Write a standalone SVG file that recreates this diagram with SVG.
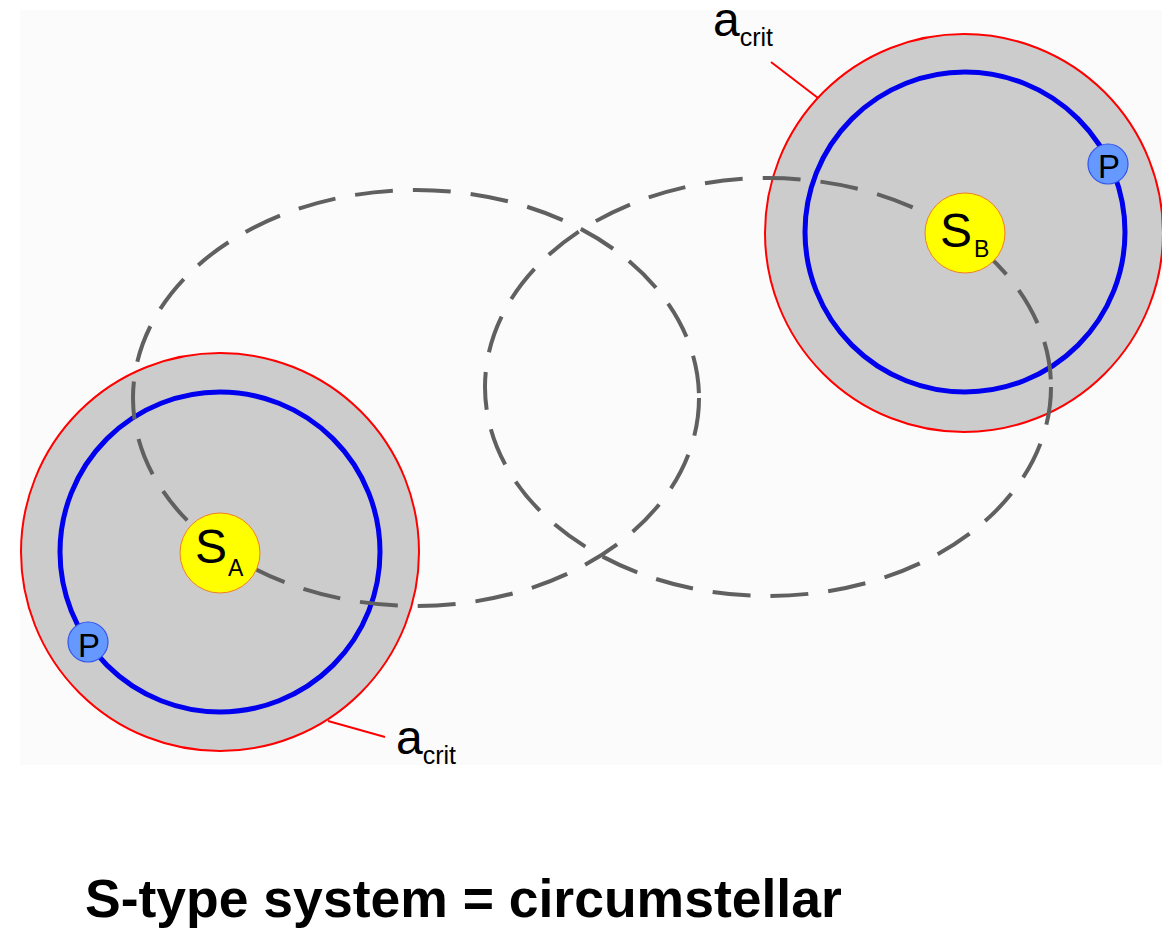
<svg xmlns="http://www.w3.org/2000/svg" width="1162" height="929" viewBox="0 0 1162 929">
<style>
.zone{fill:#cccccc;stroke:#ff0000;stroke-width:2}
.orbit{fill:none;stroke:#0000ee;stroke-width:5}
.path{fill:none;stroke:#606060;stroke-width:4;stroke-dasharray:38 20}
.star{fill:#ffff00;stroke:#f08020;stroke-width:1}
.planet{fill:#6699ff;stroke:#3355ee;stroke-width:1.2}
.lead{stroke:#ff0000;stroke-width:2;fill:none}
text{font-family:"Liberation Sans",Arial,sans-serif;fill:#000}
.big{font-size:48px}
.sub{font-size:25px}
.ssub{font-size:23px}
.pl{font-size:33px;text-anchor:middle}
.title{font-size:53.5px;font-weight:bold}
</style>
<rect x="0" y="0" width="1162" height="929" fill="#ffffff"/>
<rect x="20" y="10" width="1142" height="755" fill="#fbfbfb"/>
<g id="systemA">
<circle class="zone" cx="220" cy="552" r="199"/>
<circle class="orbit" cx="220" cy="552" r="160"/>
</g>
<g id="systemB">
<circle class="zone" cx="964" cy="233" r="199"/>
<circle class="orbit" cx="965" cy="232" r="160"/>
</g>
<g id="connectors">
<ellipse class="path" cx="416" cy="398" rx="283" ry="208"/>
<ellipse class="path" cx="768" cy="387" rx="283" ry="209"/>
<line class="lead" x1="771" y1="62" x2="818" y2="98"/>
<line class="lead" x1="328" y1="721" x2="385" y2="737"/>
</g>
<g id="starA">
<circle class="star" cx="220" cy="553" r="40"/>
<text x="195" y="563" class="big">S</text>
<text x="228" y="576" class="ssub">A</text>
</g>
<g id="starB">
<circle class="star" cx="965" cy="233" r="40"/>
<text x="940" y="247" class="big">S</text>
<text x="974" y="257" class="ssub">B</text>
</g>
<g id="planetA">
<circle class="planet" cx="88" cy="642" r="20"/>
<text x="89" y="657" class="pl">P</text>
</g>
<g id="planetB">
<circle class="planet" cx="1108" cy="164" r="20"/>
<text x="1109" y="178" class="pl">P</text>
</g>
<g id="labelTop">
<text x="713" y="36"><tspan class="big">a</tspan><tspan class="sub" dy="10">crit</tspan></text>
</g>
<g id="labelBottom">
<text x="396" y="754"><tspan class="big">a</tspan><tspan class="sub" dy="10">crit</tspan></text>
</g>
<g id="title">
<text x="85" y="917" class="title">S-type system = circumstellar</text>
</g>
</svg>
